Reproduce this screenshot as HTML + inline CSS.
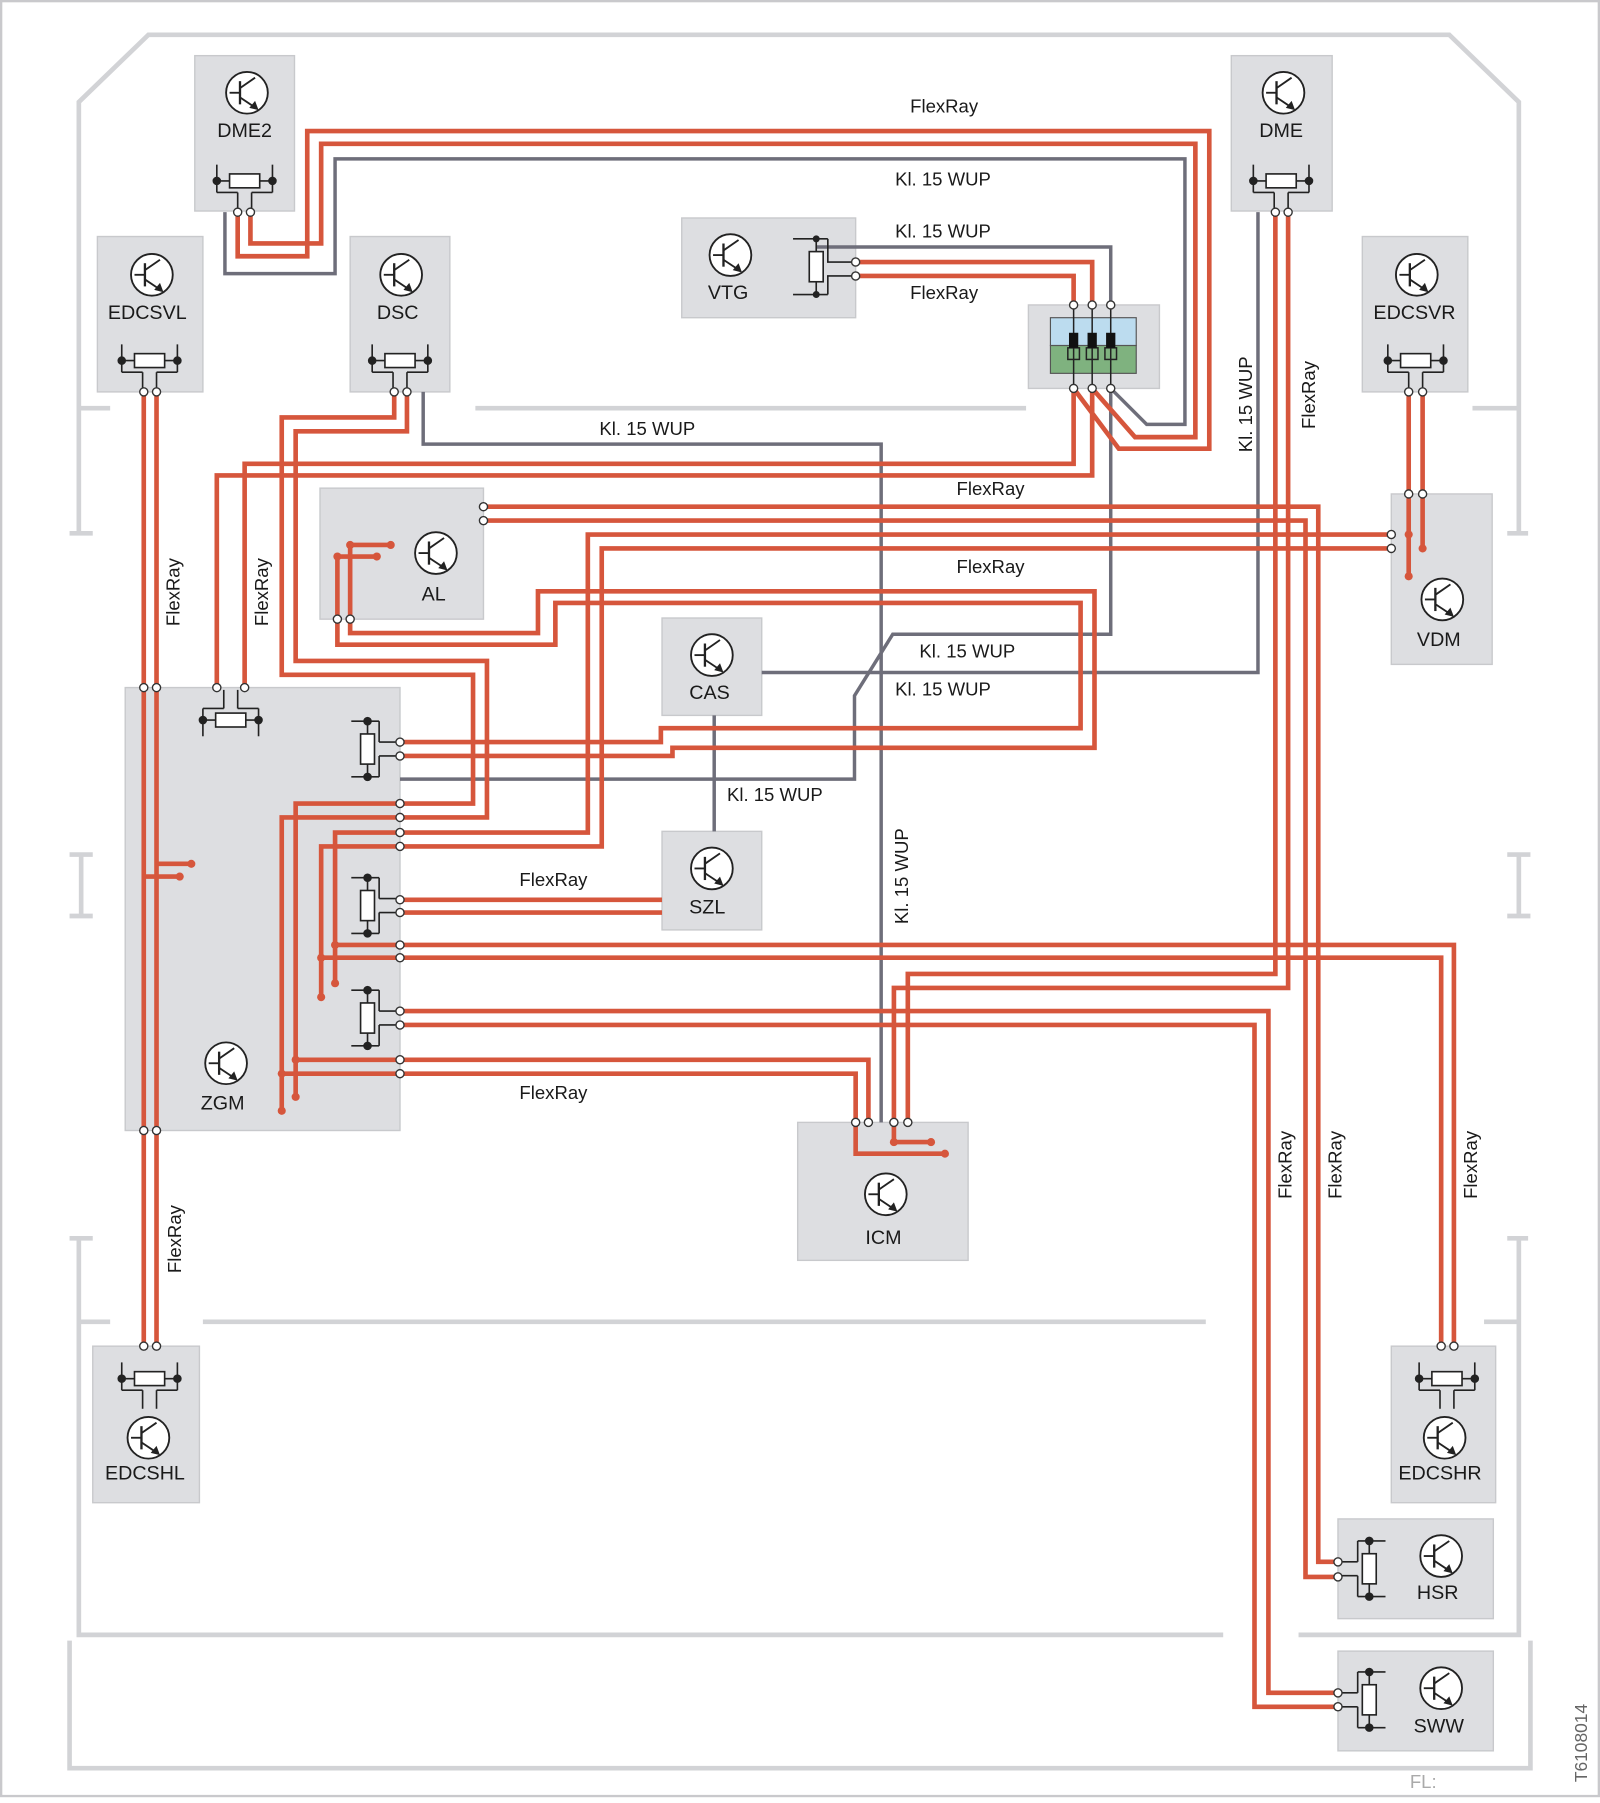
<!DOCTYPE html>
<html><head><meta charset="utf-8"><style>
html,body{margin:0;padding:0;background:#fff}
svg{display:block}
text{font-family:"Liberation Sans",sans-serif;fill:#1a1a1a}
</style></head><body>
<svg width="1600" height="1803" viewBox="0 0 1380 1555" preserveAspectRatio="none" xmlns="http://www.w3.org/2000/svg">
<defs>
<g id="T"><circle r="18" fill="#fff" stroke="#222" stroke-width="1.6"/><line x1="-15" y1="0" x2="-6" y2="0" stroke="#222" stroke-width="1.6"/><line x1="-6" y1="-10" x2="-6" y2="10" stroke="#222" stroke-width="2"/><line x1="-6" y1="-4" x2="7" y2="-13" stroke="#222" stroke-width="1.6"/><line x1="-6" y1="4" x2="6" y2="12" stroke="#222" stroke-width="1.6"/><polygon points="10,15 2,13 7,7" fill="#222"/></g>
<g id="RH" stroke="#222" stroke-width="1.4" fill="none"><line x1="-24" y1="0" x2="24" y2="0"/><line x1="-24" y1="-14" x2="-24" y2="10"/><line x1="24" y1="-14" x2="24" y2="10"/><line x1="-24" y1="10" x2="-6" y2="10"/><line x1="24" y1="10" x2="6" y2="10"/><line x1="-6" y1="10" x2="-6" y2="26"/><line x1="6" y1="10" x2="6" y2="26"/><rect x="-13" y="-6" width="26" height="12" fill="#fff"/><circle cx="-24" cy="0" r="3" fill="#222"/><circle cx="24" cy="0" r="3" fill="#222"/></g>
<g id="RV" stroke="#222" stroke-width="1.4" fill="none"><line x1="0" y1="-24" x2="0" y2="24"/><line x1="-14" y1="-24" x2="10" y2="-24"/><line x1="-14" y1="24" x2="10" y2="24"/><line x1="10" y1="-24" x2="10" y2="-6"/><line x1="10" y1="24" x2="10" y2="6"/><line x1="10" y1="-6" x2="28" y2="-6"/><line x1="10" y1="6" x2="28" y2="6"/><rect x="-6" y="-13" width="12" height="26" fill="#fff"/><circle cx="0" cy="-24" r="3" fill="#222"/><circle cx="0" cy="24" r="3" fill="#222"/></g>
</defs>
<!-- frame -->
<rect x="1" y="1" width="1378" height="1548" fill="none" stroke="#c9c9cc" stroke-width="2"/>
<g stroke="#d2d3d6" stroke-width="4" fill="none">
<polyline points="68,460 68,88 128,30 1250,30 1310,88 1310,460"/>
<line x1="60" y1="460" x2="80" y2="460"/><line x1="1300" y1="460" x2="1318" y2="460"/>
<line x1="68" y1="352" x2="95" y2="352"/><line x1="1270" y1="352" x2="1310" y2="352"/>
<line x1="410" y1="352" x2="885" y2="352"/>
<line x1="70" y1="737" x2="70" y2="790"/><line x1="60" y1="737" x2="80" y2="737"/><line x1="60" y1="790" x2="80" y2="790"/>
<line x1="1310" y1="737" x2="1310" y2="790"/><line x1="1300" y1="737" x2="1320" y2="737"/><line x1="1300" y1="790" x2="1320" y2="790"/>
<polyline points="68,1068 68,1410 1055,1410"/><polyline points="1120,1410 1310,1410 1310,1068"/>
<line x1="60" y1="1068" x2="80" y2="1068"/><line x1="1300" y1="1068" x2="1318" y2="1068"/>
<line x1="68" y1="1140" x2="95" y2="1140"/><line x1="1280" y1="1140" x2="1310" y2="1140"/>
<line x1="175" y1="1140" x2="1040" y2="1140"/>
<polyline points="60,1415 60,1525 1320,1525 1320,1415"/>
</g>
<!-- boxes -->
<g fill="#dddee1" stroke="#c8c9cc" stroke-width="1.2">
<rect x="168" y="48" width="86" height="134"/>
<rect x="1062" y="48" width="87" height="134"/>
<rect x="84" y="204" width="91" height="134"/>
<rect x="302" y="204" width="86" height="134"/>
<rect x="1175" y="204" width="91" height="134"/>
<rect x="588" y="188" width="150" height="86"/>
<rect x="887" y="263" width="113" height="72"/>
<rect x="276" y="421" width="141" height="113"/>
<rect x="1200" y="426" width="87" height="147"/>
<rect x="571" y="533" width="86" height="84"/>
<rect x="571" y="717" width="86" height="85"/>
<rect x="108" y="593" width="237" height="382"/>
<rect x="688" y="968" width="147" height="119"/>
<rect x="80" y="1161" width="92" height="135"/>
<rect x="1200" y="1161" width="90" height="135"/>
<rect x="1154" y="1310" width="134" height="86"/>
<rect x="1154" y="1424" width="134" height="86"/>
</g>
<rect x="906" y="274" width="74" height="24" fill="#bcdcef" stroke="#555" stroke-width="1"/>
<rect x="906" y="298" width="74" height="24" fill="#7fb27f" stroke="#555" stroke-width="1"/>
<!-- gray wires -->
<g stroke="#6e6e7a" stroke-width="3" fill="none">
<polyline points="194,183 194,236 289,236 289,137 1022,137 1022,366 989,366 958,335"/>
<polyline points="704,213 958,213 958,263"/>
<polyline points="958,335 958,547 770,547 737,600 737,672 345,672"/>
<polyline points="1085,183 1085,580 657,580"/>
<polyline points="365,338 365,383 760,383 760,968"/>
<line x1="616" y1="617" x2="616" y2="717"/>
</g>
<!-- red wires -->
<g stroke="#d6563c" stroke-width="4" fill="none" stroke-linejoin="miter">
<polyline points="205,183 205,221 265,221 265,113 1043,113 1043,387 965,387 926,335"/>
<polyline points="216,183 216,210 277,210 277,124 1031,124 1031,377 979,377 942,335"/>
<polyline points="738,226 942,226 942,263"/>
<polyline points="738,238 926,238 926,263"/>
<polyline points="942,335 942,410 187,410 187,593"/>
<polyline points="926,335 926,400 211,400 211,593"/>
<polyline points="1100,183 1100,840 783,840 783,968"/>
<polyline points="1111,183 1111,852 771,852 771,968"/>
<polyline points="124,338 124,1161"/><polyline points="135,338 135,1161"/>
<polyline points="124,756 155,756"/><polyline points="135,745 165,745"/>
<polyline points="340,338 340,360 243,360 243,582 408,582 408,693 345,693"/>
<polyline points="351,338 351,372 255,372 255,570 420,570 420,705 345,705"/>
<polyline points="417,437 1137,437 1137,1347 1154,1347"/>
<polyline points="417,449 1126,449 1126,1360 1154,1360"/>
<polyline points="1200,461 507,461 507,718 345,718"/>
<polyline points="1200,473 519,473 519,730 345,730"/>
<polyline points="1215,338 1215,497"/><polyline points="1227,338 1227,473"/>
<polyline points="291,534 291,556 479,556 479,520 932,520 932,628 570,628 570,640 345,640"/>
<polyline points="302,534 302,546 464,546 464,510 944,510 944,645 580,645 580,652 345,652"/>
<polyline points="291,534 291,480 325,480"/><polyline points="302,534 302,470 337,470"/>
<polyline points="345,776 571,776"/><polyline points="345,787 571,787"/>
<polyline points="345,815 1254,815 1254,1161"/>
<polyline points="345,826 1243,826 1243,1161"/>
<polyline points="345,872 1094,872 1094,1460 1154,1460"/>
<polyline points="345,884 1082,884 1082,1472 1154,1472"/>
<polyline points="345,914 749,914 749,968"/>
<polyline points="345,926 738,926 738,968"/>
<polyline points="345,693 255,693 255,946"/><polyline points="345,705 243,705 243,958"/>
<polyline points="345,718 289,718 289,848"/><polyline points="345,730 277,730 277,860"/>
<polyline points="345,815 289,815"/><polyline points="345,826 277,826"/>
<polyline points="345,914 255,914"/><polyline points="345,926 243,926"/>
<polyline points="738,968 738,995 815,995"/><polyline points="771,968 771,985 803,985"/>
</g>
<g fill="#d6563c">
<circle cx="155" cy="756" r="3.5"/><circle cx="165" cy="745" r="3.5"/>
<circle cx="325" cy="480" r="3.5"/><circle cx="337" cy="470" r="3.5"/>
<circle cx="291" cy="480" r="3.5"/><circle cx="302" cy="470" r="3.5"/>
<circle cx="1215" cy="497" r="3.5"/><circle cx="1227" cy="473" r="3.5"/><circle cx="1215" cy="461" r="3.5"/>
<circle cx="255" cy="946" r="3.5"/><circle cx="243" cy="958" r="3.5"/>
<circle cx="289" cy="848" r="3.5"/><circle cx="277" cy="860" r="3.5"/>
<circle cx="289" cy="815" r="3.5"/><circle cx="277" cy="826" r="3.5"/>
<circle cx="255" cy="914" r="3.5"/><circle cx="243" cy="926" r="3.5"/>
<circle cx="815" cy="995" r="3.5"/><circle cx="803" cy="985" r="3.5"/><circle cx="771" cy="985" r="3.5"/>
</g>
<!-- switch internals -->
<g stroke="#222" stroke-width="1.3" fill="none">
<line x1="926" y1="263" x2="926" y2="335"/><line x1="942" y1="263" x2="942" y2="335"/><line x1="958" y1="263" x2="958" y2="335"/>
<rect x="921" y="300" width="10" height="10"/><rect x="937" y="300" width="10" height="10"/><rect x="953" y="300" width="10" height="10"/>
</g>
<g fill="#111"><rect x="922" y="287" width="8" height="13"/><rect x="938" y="287" width="8" height="13"/><rect x="954" y="287" width="8" height="13"/></g>
<!-- resistors -->
<use href="#RH" x="211" y="156"/>
<use href="#RH" x="1105" y="156"/>
<use href="#RH" x="129" y="311"/>
<use href="#RH" x="345" y="311"/>
<use href="#RH" x="1221" y="311"/>
<use href="#RH" x="129" y="1189"/>
<use href="#RH" x="1248" y="1189"/>
<g transform="translate(199,621) scale(1,-1)"><use href="#RH"/></g>
<g transform="translate(704,230)"><line x1="0" y1="-24" x2="0" y2="24" stroke="#222" stroke-width="1.4"/><line x1="-20" y1="-24" x2="10" y2="-24" stroke="#222" stroke-width="1.4"/><line x1="-20" y1="24" x2="10" y2="24" stroke="#222" stroke-width="1.4"/><polyline points="10,-24 10,-4 34,-4" fill="none" stroke="#222" stroke-width="1.4"/><polyline points="10,24 10,8 34,8" fill="none" stroke="#222" stroke-width="1.4"/><rect x="-6" y="-13" width="12" height="26" fill="#fff" stroke="#222" stroke-width="1.4"/><circle cx="0" cy="-24" r="3" fill="#222"/><circle cx="0" cy="24" r="3" fill="#222"/></g>
<g transform="translate(317,646)"><use href="#RV"/></g>
<g transform="translate(317,781)"><use href="#RV"/></g>
<g transform="translate(317,878)"><use href="#RV"/></g>
<g transform="translate(1181,1353) scale(-1,1)"><use href="#RV"/></g>
<g transform="translate(1181,1466) scale(-1,1)"><use href="#RV"/></g>
<!-- pins -->
<g fill="#fff" stroke="#333" stroke-width="1.2">
<circle cx="205" cy="183" r="3.5"/><circle cx="216" cy="183" r="3.5"/>
<circle cx="1100" cy="183" r="3.5"/><circle cx="1111" cy="183" r="3.5"/>
<circle cx="124" cy="338" r="3.5"/><circle cx="135" cy="338" r="3.5"/>
<circle cx="340" cy="338" r="3.5"/><circle cx="351" cy="338" r="3.5"/>
<circle cx="1215" cy="338" r="3.5"/><circle cx="1227" cy="338" r="3.5"/>
<circle cx="1215" cy="426" r="3.5"/><circle cx="1227" cy="426" r="3.5"/>
<circle cx="738" cy="226" r="3.5"/><circle cx="738" cy="238" r="3.5"/>
<circle cx="926" cy="263" r="3.5"/><circle cx="942" cy="263" r="3.5"/><circle cx="958" cy="263" r="3.5"/>
<circle cx="926" cy="335" r="3.5"/><circle cx="942" cy="335" r="3.5"/><circle cx="958" cy="335" r="3.5"/>
<circle cx="417" cy="437" r="3.5"/><circle cx="417" cy="449" r="3.5"/>
<circle cx="291" cy="534" r="3.5"/><circle cx="302" cy="534" r="3.5"/>
<circle cx="1200" cy="461" r="3.5"/><circle cx="1200" cy="473" r="3.5"/>
<circle cx="124" cy="593" r="3.5"/><circle cx="135" cy="593" r="3.5"/>
<circle cx="124" cy="975" r="3.5"/><circle cx="135" cy="975" r="3.5"/>
<circle cx="187" cy="593" r="3.5"/><circle cx="211" cy="593" r="3.5"/>
<circle cx="345" cy="640" r="3.5"/><circle cx="345" cy="652" r="3.5"/>
<circle cx="345" cy="693" r="3.5"/><circle cx="345" cy="705" r="3.5"/><circle cx="345" cy="718" r="3.5"/><circle cx="345" cy="730" r="3.5"/>
<circle cx="345" cy="776" r="3.5"/><circle cx="345" cy="787" r="3.5"/>
<circle cx="345" cy="815" r="3.5"/><circle cx="345" cy="826" r="3.5"/>
<circle cx="345" cy="872" r="3.5"/><circle cx="345" cy="884" r="3.5"/>
<circle cx="345" cy="914" r="3.5"/><circle cx="345" cy="926" r="3.5"/>
<circle cx="738" cy="968" r="3.5"/><circle cx="749" cy="968" r="3.5"/><circle cx="771" cy="968" r="3.5"/><circle cx="783" cy="968" r="3.5"/>
<circle cx="124" cy="1161" r="3.5"/><circle cx="135" cy="1161" r="3.5"/>
<circle cx="1243" cy="1161" r="3.5"/><circle cx="1254" cy="1161" r="3.5"/>
<circle cx="1154" cy="1347" r="3.5"/><circle cx="1154" cy="1360" r="3.5"/>
<circle cx="1154" cy="1460" r="3.5"/><circle cx="1154" cy="1472" r="3.5"/>
</g>
<!-- transistors -->
<use href="#T" x="213" y="80"/><use href="#T" x="1107" y="80"/>
<use href="#T" x="131" y="237"/><use href="#T" x="346" y="237"/><use href="#T" x="1222" y="237"/>
<use href="#T" x="630" y="220"/><use href="#T" x="376" y="477"/><use href="#T" x="1244" y="517"/>
<use href="#T" x="614" y="565"/><use href="#T" x="614" y="749"/><use href="#T" x="195" y="917"/>
<use href="#T" x="764" y="1030"/><use href="#T" x="128" y="1240"/><use href="#T" x="1246" y="1240"/>
<use href="#T" x="1243" y="1342"/><use href="#T" x="1243" y="1456"/>
<!-- labels -->
<g font-size="17" text-anchor="middle">
<text x="211" y="118">DME2</text><text x="1105" y="118">DME</text>
<text x="127" y="275">EDCSVL</text><text x="343" y="275">DSC</text><text x="1220" y="275">EDCSVR</text>
<text x="628" y="258">VTG</text><text x="374" y="518">AL</text><text x="1241" y="557">VDM</text>
<text x="612" y="603">CAS</text><text x="610" y="788">SZL</text><text x="192" y="957">ZGM</text>
<text x="762" y="1073">ICM</text><text x="125" y="1276">EDCSHL</text><text x="1242" y="1276">EDCSHR</text>
<text x="1240" y="1379">HSR</text><text x="1241" y="1494">SWW</text>
</g>
<g font-size="16">
<text x="785" y="97">FlexRay</text><text x="772" y="160">Kl. 15 WUP</text>
<text x="772" y="205">Kl. 15 WUP</text><text x="785" y="258">FlexRay</text>
<text x="517" y="375">Kl. 15 WUP</text><text x="825" y="427">FlexRay</text>
<text x="825" y="494">FlexRay</text><text x="793" y="567">Kl. 15 WUP</text>
<text x="772" y="600">Kl. 15 WUP</text><text x="627" y="691">Kl. 15 WUP</text>
<text x="448" y="764">FlexRay</text><text x="448" y="948">FlexRay</text>
<text transform="translate(155,540) rotate(-90)">FlexRay</text>
<text transform="translate(231,540) rotate(-90)">FlexRay</text>
<text transform="translate(156,1098) rotate(-90)">FlexRay</text>
<text transform="translate(1080,390) rotate(-90)">Kl. 15 WUP</text>
<text transform="translate(1134,370) rotate(-90)">FlexRay</text>
<text transform="translate(783,797) rotate(-90)">Kl. 15 WUP</text>
<text transform="translate(1114,1034) rotate(-90)">FlexRay</text>
<text transform="translate(1157,1034) rotate(-90)">FlexRay</text>
<text transform="translate(1274,1034) rotate(-90)">FlexRay</text>
</g>
<text x="1216" y="1542" font-size="16" style="fill:#aaa">FL:</text>
<text transform="translate(1369,1537) rotate(-90)" font-size="15" style="fill:#666">T6108014</text>
</svg>
</body></html>
